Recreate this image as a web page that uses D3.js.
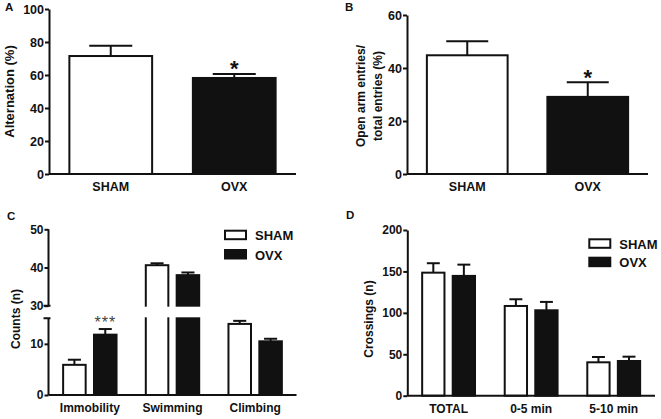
<!DOCTYPE html>
<html><head><meta charset="utf-8">
<script src="https://cdn.jsdelivr.net/npm/d3@7"></script>
<style>body{margin:0;background:#fff}svg{display:block;font-family:"Liberation Sans",Arial,sans-serif}</style>
</head><body>
<svg id="c" width="661" height="419"></svg>
<script>
// ---- data ----
const groupsAB = ["SHAM", "OVX"];
const alternationMean = [71.5, 58.2];
const alternationErr = [6.3, 2.4];
const openArmMean = [44.8, 29.1];
const openArmErr = [5.3, 5.5];

const fstCategories = ["Immobility", "Swimming", "Climbing"];
const fstSham = [5.9, 40.6, 13.9];
const fstShamErr = [1.0, 0.5, 0.6];
const fstOvx = [11.8, 38.0, 10.5];
const fstOvxErr = [1.1, 0.7, 0.5];

const ofCategories = ["TOTAL", "0-5 min", "5-10 min"];
const ofSham = [148.5, 108.3, 40.3];
const ofShamErr = [11.4, 8.1, 6.4];
const ofOvx = [144.6, 103.1, 41.9];
const ofOvxErr = [13.6, 10.1, 5.2];

const ticksA = [0, 20, 40, 60, 80, 100];
const ticksB = [0, 20, 40, 60];
const ticksC = [0, 10, 30, 40, 50];
const ticksD = [0, 50, 100, 150, 200];

const BLACK = "#111";
const svg = d3.select("#c");
svg.append("rect").attr("width", 661).attr("height", 419).attr("fill", "#fff");

function styleAxis(g, fs) {
  g.selectAll("text").attr("font-size", fs).attr("font-weight", "bold").attr("fill", BLACK);
  g.selectAll("line").attr("stroke", BLACK).attr("stroke-width", 2);
  g.selectAll(".domain").attr("stroke", BLACK).attr("stroke-width", 2);
}

function errBar(g, cx, yTop, yVal, capW) {
  g.append("line").attr("x1", cx).attr("x2", cx).attr("y1", yVal).attr("y2", yTop)
    .attr("stroke", BLACK).attr("stroke-width", 2);
  g.append("line").attr("x1", cx - capW / 2).attr("x2", cx + capW / 2).attr("y1", yTop).attr("y2", yTop)
    .attr("stroke", BLACK).attr("stroke-width", 2);
}

// ---- two-bar panels ----
function simplePanel(opt) {
  const g = svg.append("g");
  const x = d3.scaleBand().domain(groupsAB).range(opt.xr).paddingInner(0.33).paddingOuter(0.165);
  const y = d3.scaleLinear().domain(opt.yd).range(opt.yr);
  groupsAB.forEach((k, i) => {
    const x0 = x(k), w = x.bandwidth();
    errBar(g, x0 + w / 2, y(opt.mean[i] + opt.err[i]), y(opt.mean[i]), w * 0.52);
    g.append("rect").attr("x", x0).attr("y", y(opt.mean[i])).attr("width", w)
      .attr("height", y(0) - y(opt.mean[i]))
      .attr("fill", i === 0 ? "#fff" : BLACK).attr("stroke", BLACK).attr("stroke-width", 2);
  });
  const ya = g.append("g").attr("transform", `translate(${opt.xr[0]},0)`)
    .call(d3.axisLeft(y).tickValues(opt.ticks).tickSize(4).tickPadding(1).tickSizeOuter(0));
  styleAxis(ya, 12.5);
  const xa = g.append("g").attr("transform", `translate(0,${opt.yr[0]})`)
    .call(d3.axisBottom(x).tickSize(0).tickPadding(8.5).tickSizeOuter(0));
  styleAxis(xa, 12.5);
  xa.select(".domain").attr("d", `M${opt.xr[0]},0H${opt.xr[1]}`);
  // significance
  const cx = x("OVX") + x.bandwidth() / 2;
  g.append("text").attr("x", cx).attr("y", opt.starY).attr("text-anchor", "middle")
    .attr("font-size", 22).attr("font-weight", "bold").attr("fill", BLACK).text("*");
  // title
  const t = g.append("text").attr("transform", `translate(${opt.titleX},${opt.titleY}) rotate(-90)`)
    .attr("text-anchor", "middle").attr("font-size", opt.titleFs).attr("font-weight", "bold").attr("fill", BLACK);
  opt.title.forEach((s, i) => t.append("tspan").attr("x", 0).attr("dy", i === 0 ? 0 : "1.45em").text(s));
  g.append("text").attr("x", opt.letter[0]).attr("y", opt.letter[1]).attr("font-size", 11.5)
    .attr("font-weight", "bold").attr("fill", BLACK).text(opt.letterText);
}

simplePanel({xr: [49, 296], yr: [174, 9], yd: [0, 100], ticks: ticksA,
  mean: alternationMean, err: alternationErr, starY: 76,
  title: ["Alternation (%)"], titleX: 13.5, titleY: 91.5, titleFs: 13,
  letter: [5, 10.5], letterText: "A"});

simplePanel({xr: [407, 648], yr: [174, 15], yd: [0, 60], ticks: ticksB,
  mean: openArmMean, err: openArmErr, starY: 84.5,
  title: ["Open arm entries/", "total entries (%)"], titleX: 365, titleY: 96, titleFs: 12,
  letter: [345, 10.5], letterText: "B"});

// ---- grouped panels ----
function groupedPanel(opt) {
  const g = svg.append("g");
  const x0 = d3.scaleBand().domain(opt.cats).range(opt.xr).paddingInner(opt.pi).paddingOuter(opt.pi / 2);
  const x1 = d3.scaleBand().domain(groupsAB).range([0, x0.bandwidth()]).paddingInner(0.27);
  const y = d3.scaleLinear().domain(opt.yd).range(opt.yr);
  const series = [[opt.sham, opt.shamErr], [opt.ovx, opt.ovxErr]];
  opt.cats.forEach((c, ci) => {
    groupsAB.forEach((k, si) => {
      const xb = x0(c) + x1(k), w = x1.bandwidth();
      const v = series[si][0][ci], e = series[si][1][ci];
      errBar(g, xb + w / 2, y(v + e), y(v), w * 0.58);
      g.append("rect").attr("x", xb).attr("y", y(v)).attr("width", w).attr("height", y(0) - y(v))
        .attr("fill", si === 0 ? "#fff" : BLACK).attr("stroke", BLACK).attr("stroke-width", 2);
    });
  });
  const y0 = opt.yr[0];
  if (opt.brk) {
    const a = y(opt.brk[1]), b = y(opt.brk[0]);
    g.append("rect").attr("x", opt.xr[0] + 2).attr("y", a + 1).attr("width", opt.xr[1] - opt.xr[0])
      .attr("height", b - a - 2).attr("fill", "#fff");
  }
  const ya = g.append("g").attr("transform", `translate(${opt.xr[0]},0)`)
    .call(d3.axisLeft(y).tickValues(opt.ticks).tickSize(4).tickPadding(1).tickSizeOuter(0));
  styleAxis(ya, 12);
  if (opt.brk) {
    ya.select(".domain").remove();
    const top = opt.yr[opt.yr.length - 1];
    const a = y(opt.brk[1]), b = y(opt.brk[0]);
    ya.append("path").attr("d", `M0,${top}V${a}M0,${b}V${y0}M-5,${b}H2M-5,${a}H2`)
      .attr("stroke", BLACK).attr("stroke-width", 2).attr("fill", "none");
  }
  const xa = g.append("g").attr("transform", `translate(0,${y0})`)
    .call(d3.axisBottom(x0).tickSize(0).tickPadding(8.5).tickSizeOuter(0));
  styleAxis(xa, 12);
  xa.select(".domain").attr("d", `M${opt.xr[0]},0H${opt.xr[1]}`);
  // legend
  groupsAB.forEach((k, i) => {
    const ly = opt.leg[1] + i * opt.legStep;
    g.append("rect").attr("x", opt.leg[0]).attr("y", ly).attr("width", 21).attr("height", 8.5)
      .attr("fill", i === 0 ? "#fff" : BLACK).attr("stroke", BLACK).attr("stroke-width", 2);
    g.append("text").attr("x", opt.leg[0] + 30).attr("y", ly + 9.5).attr("font-size", 13)
      .attr("font-weight", "bold").attr("fill", BLACK).text(k);
  });
  const t = g.append("text").attr("transform", `translate(${opt.titleX},${opt.titleY}) rotate(-90)`)
    .attr("text-anchor", "middle").attr("font-size", 12).attr("font-weight", "bold").attr("fill", BLACK)
    .text(opt.title);
  g.append("text").attr("x", opt.letter[0]).attr("y", opt.letter[1]).attr("font-size", 11.5)
    .attr("font-weight", "bold").attr("fill", BLACK).text(opt.letterText);
  if (opt.stars) {
    const c = opt.stars;
    const cx = x0(c.cat) + x1("OVX") + x1.bandwidth() / 2;
    g.append("text").attr("x", cx).attr("y", c.y).attr("text-anchor", "middle").attr("font-size", 16)
      .attr("letter-spacing", 1).attr("fill", "#444").text("***");
  }
}

groupedPanel({cats: fstCategories, xr: [48.5, 296.5], pi: 0.354,
  yd: [0, 15, 30, 50], yr: [395, 318.3, 305.7, 229.3], brk: [15, 30], ticks: ticksC,
  sham: fstSham, shamErr: fstShamErr, ovx: fstOvx, ovxErr: fstOvxErr,
  leg: [225, 230.7], legStep: 19.3, title: "Counts (n)", titleX: 19.5, titleY: 319,
  letter: [7, 220], letterText: "C", stars: {cat: "Immobility", y: 327.5}});

groupedPanel({cats: ofCategories, xr: [407.3, 655], pi: 0.36,
  yd: [0, 200], yr: [395.7, 230], ticks: ticksD,
  sham: ofSham, shamErr: ofShamErr, ovx: ofOvx, ovxErr: ofOvxErr,
  leg: [589.3, 239.3], legStep: 18.4, title: "Crossings (n)", titleX: 373, titleY: 319,
  letter: [346, 218.5], letterText: "D"});
</script>
</body></html>
